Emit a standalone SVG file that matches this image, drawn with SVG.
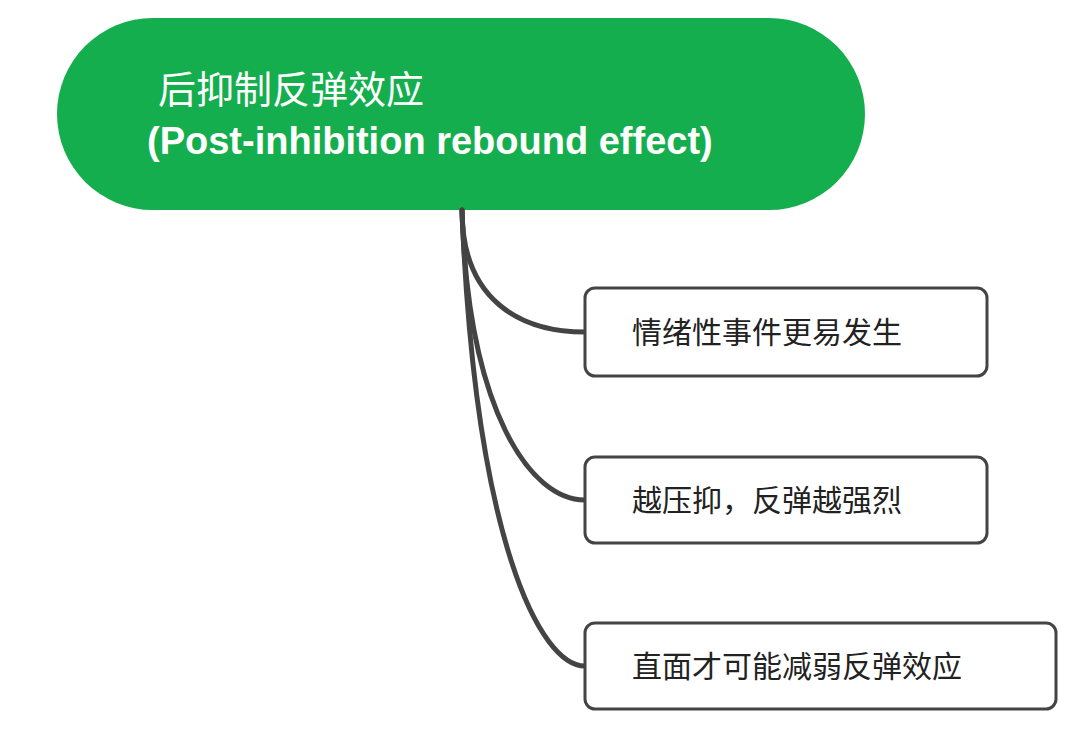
<svg xmlns="http://www.w3.org/2000/svg" width="1080" height="733" viewBox="0 0 1080 733">
<style>
.box{fill:#fff;stroke:#444;stroke-width:3}
.bt{font-family:"Noto Sans CJK SC","Noto Sans",sans-serif;font-size:30px;fill:#222}
.ct{fill:none;stroke:#444;stroke-width:5;stroke-linecap:round}
</style>
<rect width="1080" height="733" fill="#fff"/>
<g id="root">
<rect x="57" y="18" width="808" height="192" rx="96" fill="#14ae4e"/>
<text x="158" y="103" font-family="Noto Sans CJK SC,sans-serif" font-size="38" fill="#fff">后抑制反弹效应</text>
<text x="147" y="154" font-family="Liberation Sans,Arial,sans-serif" font-weight="bold" font-size="38" fill="#fff">(Post-inhibition rebound effect)</text>
</g>
<g id="connectors">
<path class="ct" d="M462,210 C462,300 520,332 585,332"/>
<path class="ct" d="M462,210 C468,410 530,500 585,500"/>
<path class="ct" d="M462,210 C475,540 540,666 585,666"/>
</g>
<g id="n1"><rect class="box" x="585" y="288" width="402" height="88" rx="10"/><text class="bt" x="632" y="343">情绪性事件更易发生</text></g>
<g id="n2"><rect class="box" x="585" y="457" width="402" height="86" rx="10"/><text class="bt" x="632" y="511">越压抑，反弹越强烈</text></g>
<g id="n3"><rect class="box" x="585" y="623" width="471" height="86" rx="10"/><text class="bt" x="632" y="677">直面才可能减弱反弹效应</text></g>
</svg>
